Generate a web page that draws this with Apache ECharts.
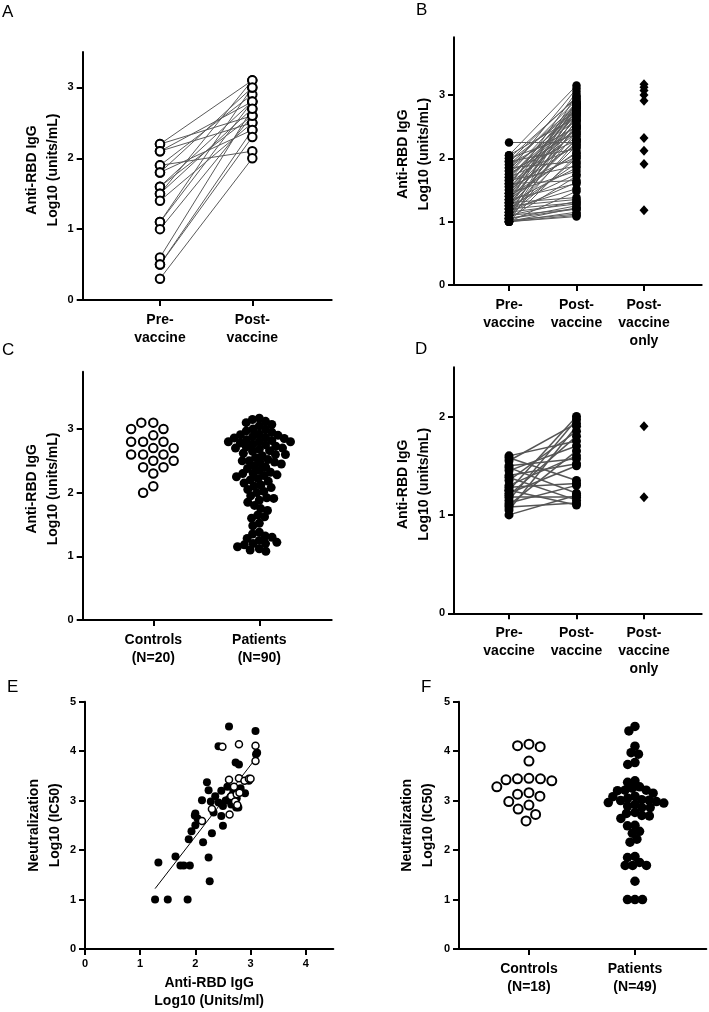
<!DOCTYPE html>
<html>
<head>
<meta charset="utf-8">
<script src="https://cdn.jsdelivr.net/npm/echarts@6/dist/echarts.min.js"></script>
<style>html,body{margin:0;padding:0;background:#fff}#c{width:709px;height:1012px}</style>
</head>
<body>
<div id="c"></div>
<script>
// ---------- DATA ----------
const catA = ['Pre-\nvaccine', 'Post-\nvaccine'];
const catB = ['Pre-\nvaccine', 'Post-\nvaccine', 'Post-\nvaccine\nonly'];
const catC = ['Controls\n(N=20)', 'Patients\n(N=90)'];
const catF = ['Controls\n(N=18)', 'Patients\n(N=49)'];

// Panel A: controls, paired pre/post
const aPre  = [2.2, 2.2, 2.1, 2.1, 1.9, 1.9, 1.8, 1.8, 1.6, 1.6, 1.5, 1.5, 1.4, 1.1, 1.1, 1.0, 0.6, 0.5, 0.5, 0.3];
const aPost = [3.1, 2.6, 2.5, 2.8, 2.1, 2.9, 2.4, 3.0, 2.6, 2.8, 2.7, 3.1, 2.5, 2.8, 3.0, 2.6, 2.7, 2.4, 2.3, 2.0];

// Panel B: patients, paired pre/post + post-vaccine only
const bPre = [2.05, 1.80, 1.55, 1.30,
  1.95, 2.00, 1.85, 1.40, 1.75, 1.20, 1.65, 1.50, 1.90, 1.35, 1.10, 1.70, 1.45, 1.60,
  1.95, 1.25, 1.60, 1.80, 1.45, 1.05, 1.70, 1.30, 2.05, 1.50, 1.15, 1.85, 1.40, 1.00,
  1.65, 1.90, 1.20, 1.55, 1.35, 1.75, 1.10, 1.60, 2.00, 1.45, 1.25, 1.30, 1.80, 1.05, 2.25, 1.50, 1.15,
  1.70, 1.95, 1.35, 1.40, 1.00, 1.55, 1.10,
  1.85, 1.20, 1.65, 1.30, 1.45, 1.25, 1.05, 1.60, 1.15, 1.35,
  1.20, 1.00,
  1.30, 1.25, 1.10, 1.20, 1.15, 1.05, 1.00, 1.10, 1.05, 1.00, 1.02, 1.00, 1.00];
const bPost = [3.15, 3.10, 3.05, 3.00,
  2.97, 2.95, 2.92, 2.90, 2.88, 2.87, 2.86, 2.85, 2.83, 2.82, 2.80, 2.80, 2.80, 2.78,
  2.76, 2.75, 2.73, 2.72, 2.70, 2.70, 2.68, 2.66, 2.65, 2.62, 2.60, 2.60, 2.58, 2.55,
  2.52, 2.50, 2.50, 2.48, 2.47, 2.45, 2.42, 2.40, 2.38, 2.35, 2.30, 2.30, 2.28, 2.27, 2.25, 2.22, 2.20,
  2.18, 2.15, 2.10, 2.08, 2.05, 2.02, 2.00,
  1.95, 1.92, 1.88, 1.85, 1.80, 1.75, 1.72, 1.65, 1.62, 1.60,
  1.52, 1.48,
  1.38, 1.35, 1.32, 1.30, 1.28, 1.25, 1.22, 1.20, 1.20, 1.15, 1.12, 1.10, 1.08];
const bPostOnly = [3.17, 3.12, 3.07, 3.00, 2.91, 2.32, 2.12, 1.91, 1.18];

// Panel C: post-vaccine, controls vs patients
const cControls = aPost;
const cPatients = bPost.concat(bPostOnly);

// Panel D: subgroup, paired pre/post + post-vaccine only
const dPre  = [1.25, 1.15, 1.55, 1.05, 1.35, 1.20, 1.60, 1.45, 1.10, 1.30, 1.50, 1.40, 1.22, 1.58, 1.28, 1.12, 1.48, 1.00, 1.18, 1.38, 1.08, 1.25];
const dPost = [2.00, 1.97, 1.93, 1.90, 1.85, 1.80, 1.75, 1.70, 1.65, 1.60, 1.57, 1.52, 1.50, 1.35, 1.32, 1.30, 1.22, 1.20, 1.18, 1.15, 1.12, 1.10];
const dPostOnly = [1.90, 1.18];

// Panel E: anti-RBD IgG (x) vs neutralization (y)
const eCtrlX = [2.49, 2.79, 3.09, 3.09, 2.61, 2.79, 2.89, 2.97, 3.00, 2.70, 2.65, 2.75, 2.80, 2.72, 2.30, 2.76, 2.62, 2.12];
const eCtrlY = [4.09, 4.14, 4.11, 3.80, 3.42, 3.45, 3.40, 3.44, 3.44, 3.28, 3.09, 3.13, 3.16, 2.98, 2.83, 2.91, 2.72, 2.59];
const ePatX = [2.61, 3.09, 2.42, 3.12, 3.10, 2.73, 2.79, 2.97, 2.21, 2.58, 2.24, 2.47, 2.82, 2.69, 2.90, 2.36, 2.64, 2.12, 2.60, 2.75,
  2.28, 2.42, 2.68, 2.55, 2.50, 2.74, 2.78, 2.65, 2.33, 2.00, 1.99, 2.04, 2.47, 2.50, 2.00, 1.93, 2.30, 1.88, 2.14, 1.33,
  1.64, 2.24, 1.73, 1.79, 1.90, 2.26, 1.27, 1.50, 1.86];
const ePatY = [4.50, 4.41, 4.10, 3.97, 3.94, 3.77, 3.73, 3.40, 3.37, 3.28, 3.21, 3.20, 3.25, 3.21, 3.15, 3.09, 3.08, 3.01, 3.02, 3.05,
  2.98, 2.96, 2.95, 3.00, 2.89, 2.86, 2.86, 2.92, 2.76, 2.74, 2.70, 2.64, 2.69, 2.49, 2.50, 2.38, 2.34, 2.22, 2.16, 1.75,
  1.87, 1.85, 1.69, 1.69, 1.69, 1.37, 1.00, 1.00, 1.00];

// Panel F: neutralization, controls vs patients
const fControls = eCtrlY;
const fPatients = ePatY;

// tick values
const yTicks3 = [0, 1, 2, 3];
const yTicks2 = [0, 1, 2];
const yTicks5 = [0, 1, 2, 3, 4, 5];
const xTicksE = [0, 1, 2, 3, 4];

// ---------- HELPERS ----------
const FONT = '"Liberation Sans", Arial, Helvetica, sans-serif';
const TXT = { fontFamily: FONT, fontWeight: 'bold', color: '#000' };

function swarm(values, pxPerUnit, diam) {
  const order = values.map((v, i) => i).sort((a, b) => values[b] - values[a]);
  const placed = [];
  const off = new Array(values.length).fill(0);
  for (const i of order) {
    const y = values[i] * pxPerUnit;
    const forb = [];
    for (const p of placed) {
      const dy = Math.abs(p.y - y);
      if (dy < diam) {
        const w = Math.sqrt(diam * diam - dy * dy);
        forb.push([p.x - w, p.x + w]);
      }
    }
    const cands = [0];
    forb.forEach(f => cands.push(f[0], f[1]));
    cands.sort((a, b) => Math.abs(a) - Math.abs(b));
    let x = 0;
    for (const c of cands) {
      if (!forb.some(f => c > f[0] + 1e-6 && c < f[1] - 1e-6)) { x = c; break; }
    }
    placed.push({ x, y });
    off[i] = x;
  }
  return off;
}

const grids = [
  { left: 82.7, top: 52, width: 249, height: 248 },      // A
  { left: 454, top: 37.3, width: 247.7, height: 247.7 }, // B
  { left: 82.7, top: 371.7, width: 249, height: 248.3 }, // C
  { left: 454, top: 367.3, width: 247.7, height: 246 },  // D
  { left: 85, top: 701.7, width: 248.3, height: 247.3 }, // E
  { left: 459, top: 701.7, width: 247.3, height: 247.3 } // F
];
const xr = [[0.163, 2.86], [0.185, 3.855], [0.334, 2.683], [0.185, 3.855], [0, 4.5], [0.34, 2.673]];
const yr = [[0, 3.5], [0, 3.91], [0, 3.9], [0, 2.5], [0, 5], [0, 5]];

function xAx(gi, labels, ticks) {
  return {
    gridIndex: gi, type: 'value', min: xr[gi][0], max: xr[gi][1],
    axisLine: { show: true, onZero: false, lineStyle: { color: '#000', width: 2 } },
    axisTick: { show: true, length: 6, lineStyle: { color: '#000', width: 2 }, customValues: ticks },
    axisLabel: labels ? {
      customValues: ticks, margin: 11, fontSize: 14, lineHeight: 18, ...TXT,
      formatter: v => labels[Math.round(v) - 1]
    } : { customValues: ticks, margin: 9, fontSize: 11, ...TXT },
    splitLine: { show: false }
  };
}
function yAx(gi, ticks, name, gap, pad) {
  return {
    gridIndex: gi, type: 'value', min: yr[gi][0], max: yr[gi][1],
    axisLine: { show: true, onZero: false, lineStyle: { color: '#000', width: 2 } },
    axisTick: { show: true, length: 6, lineStyle: { color: '#000', width: 2 }, customValues: ticks },
    axisLabel: { customValues: ticks, margin: 9, fontSize: 11, ...TXT },
    splitLine: { show: false },
    name: name, nameLocation: 'middle', nameGap: gap,
    nameTextStyle: { fontSize: 14, lineHeight: 21, ...TXT, padding: [0, 0, 0, pad] }
  };
}
function pxY(gi) { return grids[gi].height / (yr[gi][1] - yr[gi][0]); }
function pxX(gi) { return grids[gi].width / (xr[gi][1] - xr[gi][0]); }

const openStyle = (bw) => ({ color: '#fff', borderColor: '#000', borderWidth: bw, opacity: 1 });
const fillStyle = { color: '#000', opacity: 1 };

function pairLines(gi, pre, post, color, width) {
  return {
    type: 'lines', coordinateSystem: 'cartesian2d', xAxisIndex: gi, yAxisIndex: gi, silent: true, z: 1,
    data: pre.map((v, i) => ({ coords: [[1, v], [2, post[i]]] })),
    lineStyle: { color: color, width: width, opacity: 1 }
  };
}
function scat(gi, data, size, style, symbol) {
  return {
    type: 'scatter', xAxisIndex: gi, yAxisIndex: gi, silent: true, z: 3,
    symbol: symbol || 'circle', symbolSize: size, itemStyle: style, data: data
  };
}
function swarmData(gi, center, values, diam) {
  const offs = swarm(values, pxY(gi), diam);
  const k = pxX(gi);
  return values.map((v, i) => [center + offs[i] / k, v]);
}

// regression for E
const eAllX = eCtrlX.concat(ePatX), eAllY = eCtrlY.concat(ePatY);
const n = eAllX.length;
const mx = eAllX.reduce((a, b) => a + b, 0) / n, my = eAllY.reduce((a, b) => a + b, 0) / n;
let sxy = 0, sxx = 0;
for (let i = 0; i < n; i++) { sxy += (eAllX[i] - mx) * (eAllY[i] - my); sxx += (eAllX[i] - mx) ** 2; }
const slope = sxy / sxx, icpt = my - slope * mx;
const x0 = Math.min(...eAllX), x1 = Math.max(...eAllX);

const yName1 = 'Anti-RBD IgG\nLog10 (units/mL)';
const yName2 = 'Neutralization\nLog10 (IC50)';

const option = {
  animation: false,
  backgroundColor: '#fff',
  title: [
    { text: 'A', left: 2, top: 4 },
    { text: 'B', left: 416, top: 2 },
    { text: 'C', left: 2, top: 342 },
    { text: 'D', left: 415, top: 341 },
    { text: 'E', left: 7, top: 679 },
    { text: 'F', left: 421, top: 679 }
  ].map(t => ({ ...t, padding: 0, textStyle: { fontFamily: FONT, fontSize: 17, fontWeight: 'normal', color: '#000' } })),
  grid: grids,
  xAxis: [
    xAx(0, catA, [1, 2]),
    xAx(1, catB, [1, 2, 3]),
    xAx(2, catC, [1, 2]),
    xAx(3, catB, [1, 2, 3]),
    Object.assign(xAx(4, null, xTicksE), {
      name: 'Anti-RBD IgG\nLog10 (Units/ml)', nameLocation: 'middle', nameGap: 25,
      nameTextStyle: { fontSize: 14, lineHeight: 18, ...TXT }
    }),
    xAx(5, catF, [1, 2])
  ],
  yAxis: [
    yAx(0, yTicks3, yName1, 16, 12),
    yAx(1, yTicks3, yName1, 19.5, 14),
    yAx(2, yTicks3, yName1, 17, 14),
    yAx(3, yTicks2, yName1, 19.5, 12),
    yAx(4, yTicks5, yName2, 19, 0),
    yAx(5, yTicks5, yName2, 20.5, 0)
  ],
  series: [
    // A
    pairLines(0, aPre, aPost, '#5a5a5a', 1),
    scat(0, aPre.map(v => [1, v]), 8.5, openStyle(2)),
    scat(0, aPost.map(v => [2, v]), 8.5, openStyle(2)),
    // B
    pairLines(1, bPre, bPost, '#5c5c5c', 1),
    scat(1, bPre.map(v => [1, v]), 8.5, fillStyle),
    scat(1, bPost.map(v => [2, v]), 8.5, fillStyle),
    scat(1, bPostOnly.map(v => [3, v]), [9, 10], fillStyle, 'diamond'),
    // C
    scat(2, swarmData(2, 1, cControls, 12), 8.5, openStyle(2)),
    scat(2, swarmData(2, 2, cPatients, 7.0), 9, fillStyle),
    // D
    pairLines(3, dPre, dPost, '#555555', 1.5),
    scat(3, dPre.map(v => [1, v]), 9, fillStyle),
    scat(3, dPost.map(v => [2, v]), 9, fillStyle),
    scat(3, dPostOnly.map(v => [3, v]), [9, 10], fillStyle, 'diamond'),
    // E
    {
      type: 'lines', coordinateSystem: 'cartesian2d', xAxisIndex: 4, yAxisIndex: 4, silent: true, z: 2,
      data: [{ coords: [[x0, icpt + slope * x0], [x1, icpt + slope * x1]] }],
      lineStyle: { color: '#000', width: 1, opacity: 1 }
    },
    scat(4, ePatX.map((x, i) => [x, ePatY[i]]), 8, fillStyle),
    scat(4, eCtrlX.map((x, i) => [x, eCtrlY[i]]), 7, openStyle(1.5)),
    // F
    scat(5, swarmData(5, 1, fControls, 11.5), 9, openStyle(2)),
    scat(5, swarmData(5, 2, fPatients, 7.5), 9.5, fillStyle)
  ]
};

const chart = echarts.init(document.getElementById('c'), null, { renderer: 'canvas' });
chart.setOption(option);
</script>
</body>
</html>
